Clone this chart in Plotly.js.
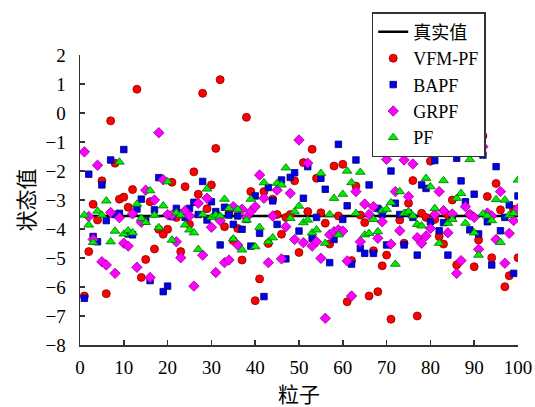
<!DOCTYPE html>
<html>
<head>
<meta charset="utf-8">
<script src="https://cdn.plot.ly/plotly-3.0.1.min.js"></script>
<style>
  html, body { margin: 0; padding: 0; background: #fff; }
  #chart { width: 535px; height: 407px; }
</style>
</head>
<body>
<div id="chart"></div>
<script>
// ---- Data ----
var particles = [];
for (var i = 1; i <= 100; i++) particles.push(i);

var trueX = [1, 100];
var trueY = [-3.55, -3.55];

var vfmpf = [-6.31,-4.78,-3.15,-3.69,-2.34,-6.23,-0.27,-1.73,-2.97,-2.9,
 -3.25,-2.64,0.82,-5.67,-5.05,-3.06,-4.69,-4.01,-4.18,-4.01,
 -2.39,-3.6,-4.78,-2.54,-3.84,-2.03,-2.8,0.68,-3.3,-2.48,
 -1.22,1.15,-3.92,-3.45,-4.4,-3.98,-5.07,-0.15,-2.71,-6.47,
 -5.72,-2.71,-4.5,-2.97,-3.5,-4.18,-3.6,-3.5,-2.34,-4.81,
 -1.71,-3.4,-1.25,-2.25,-3.44,-3.8,-4.52,-1.83,-3.55,-1.77,
 -6.51,-5.09,-2.52,-3.52,-3.78,-6.31,-4.75,-6.16,-5.27,-4.9,
 -7.11,-0.87,-3.69,-4.49,-3.11,-2.33,-7.0,-3.46,-3.6,-1.66,
 -3.67,-4.26,-4.52,-3.52,-3.0,-5.24,-1.31,-0.91,-3.5,-5.3,
 -4.38,-0.79,-2.88,-4.99,-2.43,-3.34,-5.99,-5.61,-3.32,-4.99];

var bapf = [-6.39,-2.11,-4.26,-4.44,-2.48,-3.71,-1.62,-3.5,-3.46,-1.26,
 -4.17,-4.2,-3.31,-2.97,-3.72,-5.78,-3.34,-2.23,-6.16,-5.97,
 -3.57,-3.29,-3.45,-3.6,-3.29,-3.08,-3.5,-2.36,-3.69,-3.06,
 -3.4,-4.55,-3.25,-3.52,-3.84,-3.55,-4.01,-3.67,-4.59,-2.86,
 -4.15,-6.33,-2.57,-3.03,-3.84,-2.31,-5.03,-2.22,-2.06,-4.07,
 -2.94,-1.85,-4.32,-3.6,-2.25,-2.63,-5.16,-4.36,-1.08,-3.67,
 -3.2,-5.21,-1.62,-4.67,-4.84,-2.48,-4.84,-3.29,-3.5,-4.55,
 -2.0,-3.11,-3.5,-4.55,-3.45,-3.6,-4.9,-2.48,-2.6,-3.75,
 -1.64,-4.06,-3.78,-4.9,-3.55,-1.56,-2.34,-3.06,-4.03,-2.8,
 -4.17,-1.45,-3.75,-5.24,-1.85,-4.06,-3.6,-3.17,-5.53,-2.86];

var grpf = [-1.34,-3.57,-4.36,-1.8,-5.13,-5.24,-3.43,-5.53,-3.61,-4.49,
 -4.59,-3.48,-5.32,-3.77,-2.66,-5.67,-3.0,-0.68,-2.3,-3.5,
 -3.52,-4.44,-4.99,-3.37,-3.55,-5.97,-3.11,-4.9,-2.94,-3.94,
 -5.5,-3.71,-5.16,-5.07,-3.23,-4.55,-3.32,-3.6,-3.4,-3.23,
 -2.14,-2.94,-5.16,-3.55,-2.66,-5.03,-3.92,-2.77,-4.36,-0.93,
 -4.47,-1.73,-4.59,-4.44,-5.01,-7.08,-4.2,-4.09,-4.03,-4.07,
 -5.1,-6.31,-2.71,-4.44,-3.14,-3.5,-3.23,-4.32,-3.75,-1.6,
 -4.52,-2.71,-4.06,-1.62,-2.88,-1.76,-4.3,-4.49,-4.24,-3.98,
 -3.5,-2.71,-3.37,-4.13,-3.48,-5.53,-5.09,-3.23,-3.5,-3.6,
 -4.7,-1.16,-3.45,-3.55,-4.36,-2.71,-5.18,-4.15,-3.71,-3.3];

var pf = [-3.52,-3.86,-4.46,-3.38,-3.52,-3.03,-4.44,-4.07,-1.69,-4.17,
 -4.06,-4.13,-3.14,-3.63,-3.77,-2.68,-3.52,-3.95,-3.2,-2.37,
 -4.38,-3.44,-3.52,-3.86,-4.03,-4.13,-4.7,-3.5,-2.62,-3.6,
 -3.52,-3.55,-2.97,-3.29,-4.34,-3.32,-4.72,-3.69,-2.97,-4.61,
 -3.94,-2.4,-4.44,-4.3,-2.42,-2.48,-1.89,-3.63,-3.4,-3.21,
 -3.78,-3.69,-4.13,-4.03,-2.08,-4.49,-3.5,-2.94,-4.2,-2.8,
 -2.0,-2.4,-3.46,-2.04,-4.2,-4.15,-3.67,-4.09,-3.37,-3.32,
 -3.09,-5.21,-2.71,-3.46,-3.4,-3.55,-3.84,-3.89,-2.25,-2.54,
 -3.29,-4.49,-2.33,-3.8,-3.67,-2.94,-2.77,-3.8,-1.6,-4.13,
 -4.9,-3.48,-3.55,-3.71,-2.98,-4.46,-3.0,-3.52,-3.46,-2.31];

var seriesNames = ['真实值', 'VFM-PF', 'BAPF', 'GRPF', 'PF'];

// ---- Chart ----
var serif = "'Liberation Serif', 'Times New Roman', 'Noto Sans CJK SC', serif";

var traces = [
  { x: trueX, y: trueY, name: seriesNames[0], mode: 'lines', type: 'scatter',
    line: { color: '#000000', width: 2.5 } },
  { x: particles, y: vfmpf, name: seriesNames[1], mode: 'markers', type: 'scatter',
    marker: { symbol: 'circle', size: 8, color: '#ff0000', line: { color: '#8a0000', width: 0.8 } } },
  { x: particles, y: bapf, name: seriesNames[2], mode: 'markers', type: 'scatter',
    marker: { symbol: 'square', size: 6.5, color: '#0000ee', line: { color: '#000070', width: 0.8 } } },
  { x: particles, y: grpf, name: seriesNames[3], mode: 'markers', type: 'scatter',
    marker: { symbol: 'diamond', size: 8, color: '#ff00ff', line: { color: '#8a008a', width: 0.8 } } },
  { x: particles, y: pf, name: seriesNames[4], mode: 'markers', type: 'scatter',
    marker: { symbol: 'triangle-up', size: 8.5, color: '#00ee00', line: { color: '#007000', width: 0.8 } } }
];

var layout = {
  width: 535, height: 407,
  margin: { l: 80, r: 17, t: 55, b: 62, pad: 0 },
  paper_bgcolor: '#ffffff', plot_bgcolor: '#ffffff',
  font: { family: serif, size: 19, color: '#000000' },
  showlegend: true,
  legend: {
    x: 0.666, y: 1.148, xanchor: 'left', yanchor: 'top',
    bgcolor: '#ffffff', bordercolor: '#333333', borderwidth: 1.5,
    font: { family: serif, size: 18, color: '#000000' },
    tracegroupgap: 0, itemwidth: 30
  },
  xaxis: {
    range: [0, 100], tickmode: 'linear', tick0: 0, dtick: 10,
    ticks: 'inside', ticklen: 5, tickwidth: 1.5, tickcolor: '#333333',
    showline: true, linecolor: '#333333', linewidth: 1.5, mirror: false,
    showgrid: false, zeroline: false, ticklabelstandoff: 5,
    tickfont: { family: serif, size: 19 },
    title: { text: '粒子', font: { family: serif, size: 21 }, standoff: 15 }
  },
  yaxis: {
    range: [-8, 2], tickmode: 'linear', tick0: 0, dtick: 1,
    ticks: 'inside', ticklen: 5, tickwidth: 1.5, tickcolor: '#333333',
    showline: true, linecolor: '#333333', linewidth: 1.5, mirror: false,
    showgrid: false, zeroline: false, ticklabelstandoff: 9,
    tickfont: { family: serif, size: 19, color: '#000000' },
    title: { text: '状态值', font: { family: serif, size: 21 }, standoff: 5 }
  }
};

Plotly.newPlot('chart', traces, layout, { displayModeBar: false, staticPlot: true });
</script>
</body>
</html>
